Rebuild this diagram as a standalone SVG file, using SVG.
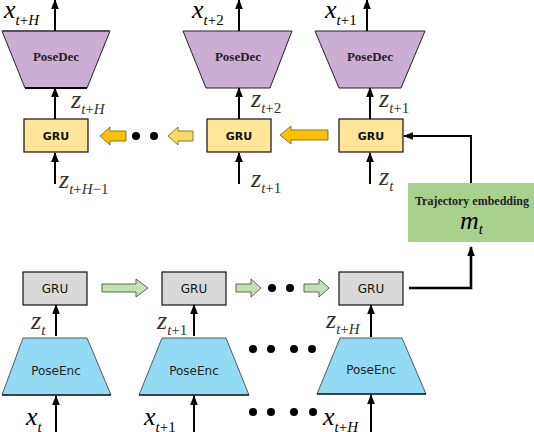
<svg xmlns="http://www.w3.org/2000/svg" width="534" height="432" viewBox="0 0 534 432">
<defs>
<marker id="ah" markerUnits="userSpaceOnUse" markerWidth="10" markerHeight="10" viewBox="0 0 10 10" refX="9" refY="5" orient="auto">
<path d="M0,1.2 L10,5 L0,8.8 Z" fill="#000"/>
</marker>
<style>
.dec{fill:#CCADD3;stroke:#222;stroke-width:1}
.enc{fill:#93DBF4;stroke:#333;stroke-width:0.8}
.gy{fill:#FFE699;stroke:#111;stroke-width:1.2}
.gg{fill:#D9D9D9;stroke:#111;stroke-width:1.2}
.ln{stroke:#000;stroke-width:2;fill:none;marker-end:url(#ah)}
.lnt{stroke:#000;stroke-width:2.6;fill:none;marker-end:url(#ah)}
.dt{font-family:"Liberation Serif",serif;font-weight:bold;font-size:13px;fill:#222;text-anchor:middle}
.et{font-family:"DejaVu Sans",sans-serif;font-size:12px;fill:#222;text-anchor:middle}
.gt{font-family:"DejaVu Sans",sans-serif;font-weight:bold;font-size:11px;fill:#111;text-anchor:middle}
.gt2{font-family:"DejaVu Sans",sans-serif;font-size:12px;fill:#111;text-anchor:middle}
.m{font-family:"Liberation Serif",serif;font-style:italic;font-size:26px;fill:#000}
.mz{font-family:"Liberation Serif",serif;font-style:italic;font-size:26px;fill:#333}
.s{font-size:15px;font-style:normal}
.i{font-style:italic}
.dot{fill:#000}
.ora{fill:#FFC000;stroke:#6b5a20;stroke-width:0.8}
.lye{fill:#FFD966;stroke:#6b5a20;stroke-width:0.8}
.grn{fill:#C5E0B4;stroke:#4d5a46;stroke-width:0.9}
</style>
</defs>

<!-- Decoder nodes -->
<g id="posedec1"><polygon class="dec" points="2,31 110,31 87,88 25,88"/><line x1="2" y1="31" x2="110" y2="31" stroke="#555" stroke-width="2"/><line x1="25" y1="88" x2="87" y2="88" stroke="#000" stroke-width="2"/><text class="dt" x="56" y="61">PoseDec</text></g>
<g id="posedec2"><polygon class="dec" points="183,31 292,31 270,88 206,88"/><text class="dt" x="238" y="61">PoseDec</text></g>
<g id="posedec3"><polygon class="dec" points="315,31 425,31 401,88 339,88"/><text class="dt" x="370" y="61">PoseDec</text></g>

<g id="gru-dec1"><rect class="gy" x="24" y="119" width="64" height="33"/><text class="gt" x="56" y="140">GRU</text></g>
<g id="gru-dec2"><rect class="gy" x="207" y="119" width="64" height="33"/><text class="gt" x="239" y="140">GRU</text></g>
<g id="gru-dec3"><rect class="gy" x="339" y="119" width="64" height="33"/><text class="gt" x="371" y="140">GRU</text></g>

<g id="traj"><rect x="408" y="183" width="126" height="59" fill="#A9D18E"/><text x="472" y="205" font-family="Liberation Serif,serif" font-weight="bold" font-size="12" fill="#222" text-anchor="middle">Trajectory embedding</text><text class="m" x="460" y="229">m<tspan class="s i" dy="5">t</tspan></text></g>

<!-- Encoder nodes -->
<g id="gru-enc1"><rect class="gg" x="23" y="272" width="64" height="33"/><text class="gt2" x="55" y="293">GRU</text></g>
<g id="gru-enc2"><rect class="gg" x="162" y="272" width="64" height="33"/><text class="gt2" x="194" y="293">GRU</text></g>
<g id="gru-enc3"><rect class="gg" x="339" y="272" width="64" height="33"/><text class="gt2" x="371" y="293">GRU</text></g>

<g id="poseenc1"><polygon class="enc" points="23,338 87,338 111,395 2,395"/><line x1="2" y1="395" x2="111" y2="395" stroke="#222" stroke-width="1.3"/><text class="et" x="56" y="375">PoseEnc</text></g>
<g id="poseenc2"><polygon class="enc" points="162,338 226,338 249,395 139,395"/><line x1="139" y1="395" x2="249" y2="395" stroke="#222" stroke-width="1.3"/><text class="et" x="194" y="375">PoseEnc</text></g>
<g id="poseenc3"><polygon class="enc" points="340,338 402,338 426,394 317,394"/><line x1="317" y1="394" x2="426" y2="394" stroke="#222" stroke-width="1.3"/><text class="et" x="371" y="374">PoseEnc</text></g>

<!-- Connectors -->
<g id="connectors">
<line class="ln" x1="55" y1="31" x2="55" y2="0"/>
<line class="ln" x1="239" y1="31" x2="239" y2="0"/>
<line class="ln" x1="367" y1="31" x2="367" y2="0"/>
<line class="ln" x1="55" y1="119" x2="55" y2="88"/>
<line class="ln" x1="239" y1="119" x2="239" y2="88"/>
<line class="ln" x1="370" y1="119" x2="370" y2="88"/>
<line class="ln" x1="55" y1="184" x2="55" y2="153"/>
<line class="ln" x1="239" y1="184" x2="239" y2="153"/>
<line class="ln" x1="370" y1="184" x2="370" y2="153"/>
<polyline class="ln" points="471,183 471,136 404,136"/>
<polyline class="lnt" points="409,288 471,288 471,247"/>
<line class="ln" x1="56" y1="336" x2="56" y2="305"/>
<line class="ln" x1="194" y1="336" x2="194" y2="305"/>
<line class="ln" x1="371" y1="337" x2="371" y2="305"/>
<line class="ln" x1="56" y1="432" x2="56" y2="396"/>
<line class="ln" x1="194" y1="432" x2="194" y2="396"/>
<line class="ln" x1="371" y1="432" x2="371" y2="395"/>
<path class="ora" d="M100 136 L110 127 L110 131 L126 131 L126 141 L110 141 L110 145 Z"/>
<path class="lye" d="M168 136 L178 127 L178 131 L193 131 L193 141 L178 141 L178 145 Z"/>
<path class="ora" d="M280 135 L291 126 L291 130 L328 130 L328 140 L291 140 L291 144 Z"/>
<path class="grn" d="M102 284 L136 284 L136 279 L148 288 L136 297 L136 292 L102 292 Z"/>
<path class="grn" d="M236 284 L251 284 L251 279 L261 288 L251 297 L251 292 L236 292 Z"/>
<path class="grn" d="M304 284 L319 284 L319 279 L329 288 L319 297 L319 292 L304 292 Z"/>
</g>

<!-- Dots -->
<g id="dots">
<circle class="dot" cx="136" cy="136" r="4"/><circle class="dot" cx="154" cy="136" r="4"/>
<circle class="dot" cx="272" cy="288" r="4"/><circle class="dot" cx="290" cy="288" r="4"/>
<circle class="dot" cx="253" cy="349" r="4"/><circle class="dot" cx="271" cy="349" r="4"/><circle class="dot" cx="294" cy="349" r="4"/><circle class="dot" cx="312" cy="349" r="4"/>
<circle class="dot" cx="253" cy="412" r="4"/><circle class="dot" cx="271" cy="412" r="4"/><circle class="dot" cx="294" cy="412" r="4"/><circle class="dot" cx="313" cy="412" r="4"/>
</g>

<!-- Labels -->
<g id="labels">
<text class="m" x="4" y="18">x<tspan class="s" dy="7"><tspan class="i">t</tspan>+<tspan class="i">H</tspan></tspan></text>
<text class="m" x="192" y="18">x<tspan class="s" dy="7"><tspan class="i">t</tspan>+2</tspan></text>
<text class="m" x="325" y="18">x<tspan class="s" dy="7"><tspan class="i">t</tspan>+1</tspan></text>
<text class="mz" x="71" y="108">z<tspan class="s" dy="6"><tspan class="i">t</tspan>+<tspan class="i">H</tspan></tspan></text>
<text class="mz" x="251" y="107">z<tspan class="s" dy="6"><tspan class="i">t</tspan>+2</tspan></text>
<text class="mz" x="379" y="107">z<tspan class="s" dy="6"><tspan class="i">t</tspan>+1</tspan></text>
<text class="mz" x="59" y="188">z<tspan class="s" dy="6"><tspan class="i">t</tspan>+<tspan class="i">H</tspan>−1</tspan></text>
<text class="mz" x="251" y="187">z<tspan class="s" dy="6"><tspan class="i">t</tspan>+1</tspan></text>
<text class="mz" x="379" y="185">z<tspan class="s" dy="6"><tspan class="i">t</tspan></tspan></text>
<text class="mz" x="31" y="329">z<tspan class="s" dy="6"><tspan class="i">t</tspan></tspan></text>
<text class="mz" x="157" y="329">z<tspan class="s" dy="6"><tspan class="i">t</tspan>+1</tspan></text>
<text class="mz" x="326" y="328">z<tspan class="s" dy="6"><tspan class="i">t</tspan>+<tspan class="i">H</tspan></tspan></text>
<text class="m" x="26" y="425">x<tspan class="s" dy="7"><tspan class="i">t</tspan></tspan></text>
<text class="m" x="144" y="425">x<tspan class="s" dy="7"><tspan class="i">t</tspan>+1</tspan></text>
<text class="m" x="323" y="425">x<tspan class="s" dy="7"><tspan class="i">t</tspan>+<tspan class="i">H</tspan></tspan></text>
</g>
</svg>
